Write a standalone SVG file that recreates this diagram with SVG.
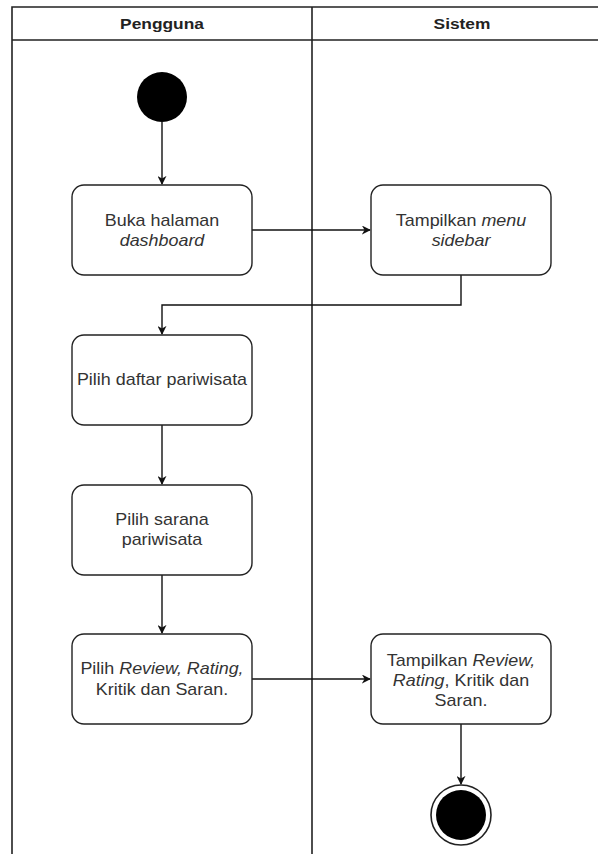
<svg xmlns="http://www.w3.org/2000/svg" width="598" height="854" viewBox="0 0 598 854">
  <style>
    .lane { fill: none; stroke: #222; stroke-width: 1.6; }
    .act rect { fill: #fff; stroke: #222; stroke-width: 1.4; }
    .lbl { font-family: "Liberation Sans", Arial, sans-serif; font-size: 16px; fill: #333; text-anchor: middle; }
    .hdr { font-family: "Liberation Sans", Arial, sans-serif; font-size: 15.5px; font-weight: bold; fill: #222; text-anchor: middle; }
    .flow { fill: none; stroke: #111; stroke-width: 1.4; marker-end: url(#arrow); }
    .it { font-style: italic; }
  </style>
  <defs>
    <marker id="arrow" viewBox="0 0 10 10" refX="9" refY="5" markerWidth="9" markerHeight="9" markerUnits="userSpaceOnUse" orient="auto">
      <path d="M0,0 L10,5 L0,10 L3,5 Z" fill="#111"/>
    </marker>
  </defs>
  <rect width="598" height="854" fill="#fff"/>

  <!-- swimlanes -->
  <g id="lanes">
    <path class="lane" d="M12,854 V7 H600 M12,40 H600 M312,7 V854"/>
    <text class="hdr" x="162" y="29" transform="matrix(1.12 0 0 1 -19.44 0)">Pengguna</text>
    <text class="hdr" x="462" y="29" transform="matrix(1.12 0 0 1 -55.44 0)">Sistem</text>
  </g>

  <!-- connectors -->
  <g id="connectors">
    <path class="flow" d="M162,122 V184"/>
    <path class="flow" d="M252,230 H370"/>
    <path class="flow" d="M461,275 V305 H162 V334"/>
    <path class="flow" d="M162,425 V484"/>
    <path class="flow" d="M162,575 V633"/>
    <path class="flow" d="M252,679 H370"/>
    <path class="flow" d="M461,724 V784"/>
  </g>

  <g id="start">
    <circle cx="162" cy="97" r="25" fill="#000"/>
  </g>

  <g id="buka-dashboard" class="act">
    <rect x="72" y="185" width="180" height="90" rx="12"/>
    <g transform="matrix(1.12 0 0 1 -19.44 0)">
      <text class="lbl" x="162" y="226">Buka halaman</text>
      <text class="lbl it" x="162" y="246">dashboard</text>
    </g>
  </g>

  <g id="tampil-sidebar" class="act">
    <rect x="371" y="185" width="180" height="90" rx="12"/>
    <g transform="matrix(1.12 0 0 1 -55.32 0)">
      <text class="lbl" x="461" y="226">Tampilkan <tspan class="it">menu</tspan></text>
      <text class="lbl it" x="461" y="246">sidebar</text>
    </g>
  </g>

  <g id="pilih-daftar" class="act">
    <rect x="72" y="335" width="180" height="90" rx="12"/>
    <g transform="matrix(1.12 0 0 1 -19.44 0)">
      <text class="lbl" x="162" y="385">Pilih daftar pariwisata</text>
    </g>
  </g>

  <g id="pilih-sarana" class="act">
    <rect x="72" y="485" width="180" height="90" rx="12"/>
    <g transform="matrix(1.12 0 0 1 -19.44 0)">
      <text class="lbl" x="162" y="525">Pilih sarana</text>
      <text class="lbl" x="162" y="545">pariwisata</text>
    </g>
  </g>

  <g id="pilih-review" class="act">
    <rect x="72" y="634" width="180" height="90" rx="12"/>
    <g transform="matrix(1.12 0 0 1 -19.44 0)">
      <text class="lbl" x="162" y="674">Pilih <tspan class="it">Review, Rating,</tspan></text>
      <text class="lbl" x="162" y="695">Kritik dan Saran.</text>
    </g>
  </g>

  <g id="tampil-review" class="act">
    <rect x="371" y="634" width="180" height="90" rx="12"/>
    <g transform="matrix(1.12 0 0 1 -55.32 0)">
      <text class="lbl" x="461" y="666">Tampilkan <tspan class="it">Review,</tspan></text>
      <text class="lbl" x="461" y="686"><tspan class="it">Rating</tspan>, Kritik dan</text>
      <text class="lbl" x="461" y="706">Saran.</text>
    </g>
  </g>

  <g id="end">
    <circle cx="461" cy="815" r="30" fill="#fff" stroke="#222" stroke-width="1.6"/>
    <circle cx="461" cy="815" r="25" fill="#000"/>
  </g>
</svg>
